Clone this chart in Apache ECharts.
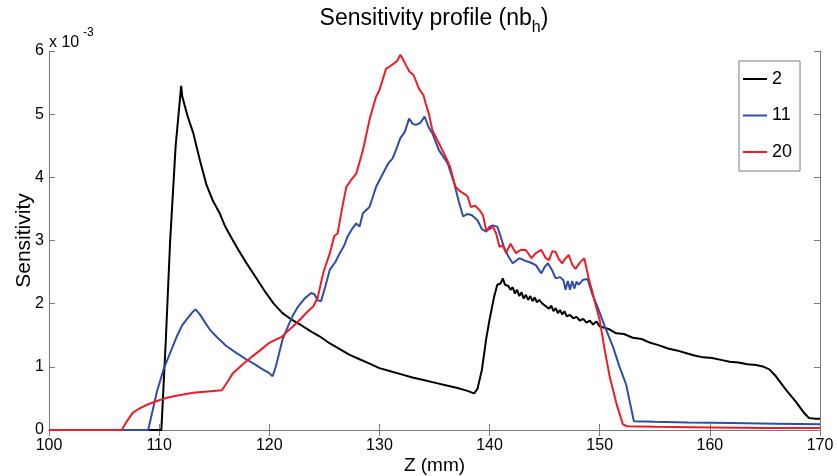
<!DOCTYPE html>
<html>
<head>
<meta charset="utf-8">
<script src="https://cdn.jsdelivr.net/npm/echarts@6/dist/echarts.min.js"></script>
<style>
html,body{margin:0;padding:0;background:#fff;}
#chart{width:837px;height:476px;}
</style>
</head>
<body>
<div id="chart"></div>
<script>
// Sensitivity values in units of 1e-3, Z in mm
const xTicks = [100, 110, 120, 130, 140, 150, 160, 170];
const yTicks = [0, 1, 2, 3, 4, 5, 6];
const seriesNames = ['2', '11', '20'];

const nb2 = [[100,0],[110.2,0],[110.6,1.4],[111.0,3.0],[111.5,4.5],[112.0,5.45],[112.1,5.28],[112.3,5.15],[112.6,4.96],[113.1,4.70],[113.7,4.27],[114.3,3.88],[114.9,3.62],[115.5,3.43],[116.0,3.22],[116.6,3.03],[117.2,2.85],[117.9,2.65],[118.8,2.41],[119.7,2.17],[120.4,2.00],[121.2,1.85],[122.0,1.75],[122.8,1.67],[123.7,1.57],[124.6,1.48],[125.5,1.37],[126.4,1.28],[127.3,1.19],[128.2,1.12],[129.1,1.05],[130.0,0.98],[131.0,0.93],[132.0,0.88],[133.0,0.83],[134.0,0.79],[135.0,0.75],[136.0,0.71],[137.0,0.67],[138.0,0.62],[138.6,0.58],[138.9,0.65],[139.3,0.95],[139.7,1.45],[140.0,1.75],[140.4,2.10],[140.7,2.30],[141.0,2.32],[141.2,2.40],[141.4,2.30],[141.7,2.28],[141.9,2.22],[142.1,2.26],[142.3,2.16],[142.5,2.22],[142.7,2.12],[142.9,2.18],[143.1,2.08],[143.3,2.14],[143.5,2.06],[143.7,2.12],[143.9,2.04],[144.1,2.10],[144.3,2.02],[144.5,2.06],[144.8,2.00],[145.1,1.96],[145.4,1.92],[145.6,1.97],[145.8,1.88],[146.0,1.93],[146.2,1.85],[146.4,1.90],[146.6,1.83],[146.8,1.88],[147.0,1.80],[147.3,1.82],[147.6,1.77],[147.9,1.79],[148.2,1.73],[148.5,1.76],[148.8,1.70],[149.1,1.73],[149.4,1.67],[149.7,1.72],[150.0,1.64],[150.8,1.60],[151.5,1.53],[152.2,1.52],[153.0,1.46],[153.8,1.44],[154.6,1.38],[155.4,1.34],[156.2,1.29],[157.0,1.26],[157.8,1.22],[158.6,1.18],[159.4,1.15],[160.2,1.14],[161.0,1.11],[161.8,1.08],[162.6,1.07],[163.4,1.04],[164.2,1.03],[164.9,1.00],[165.4,0.96],[166.0,0.85],[166.9,0.64],[167.8,0.45],[168.6,0.26],[169.0,0.19],[169.5,0.18],[170,0.18]];

const nb11 = [[100,0],[109.0,0],[109.4,0.30],[109.8,0.61],[110.4,0.96],[111.0,1.22],[111.6,1.48],[112.1,1.66],[112.5,1.75],[113.0,1.86],[113.3,1.91],[113.7,1.83],[114.1,1.72],[114.6,1.59],[115.3,1.46],[116.1,1.33],[117.0,1.22],[117.9,1.12],[118.7,1.04],[119.4,0.96],[120.0,0.90],[120.3,0.85],[120.6,1.01],[120.9,1.22],[121.2,1.43],[121.6,1.60],[122.1,1.80],[122.6,1.95],[123.2,2.08],[123.8,2.17],[124.1,2.15],[124.4,2.05],[124.7,2.04],[125.1,2.28],[125.5,2.54],[126.0,2.66],[126.4,2.80],[126.8,2.92],[127.1,3.06],[127.5,3.18],[127.9,3.27],[128.2,3.22],[128.5,3.43],[129.1,3.53],[129.7,3.85],[130.2,4.02],[130.8,4.22],[131.2,4.30],[131.5,4.43],[131.9,4.62],[132.3,4.72],[132.7,4.93],[133.0,4.85],[133.3,4.83],[133.7,4.86],[134.1,4.96],[134.5,4.78],[134.8,4.70],[135.4,4.43],[135.9,4.30],[136.2,4.22],[136.8,3.90],[137.2,3.62],[137.6,3.38],[138.0,3.42],[138.4,3.40],[138.9,3.32],[139.3,3.18],[139.7,3.14],[140.0,3.22],[140.3,3.24],[140.7,3.22],[140.9,3.12],[141.3,2.90],[141.7,2.75],[142.1,2.64],[142.7,2.72],[143.2,2.68],[143.6,2.66],[144.2,2.61],[144.7,2.48],[145.0,2.58],[145.3,2.64],[145.7,2.52],[146.0,2.40],[146.4,2.42],[146.7,2.37],[146.9,2.22],[147.1,2.36],[147.3,2.22],[147.5,2.36],[147.7,2.24],[147.9,2.35],[148.1,2.30],[148.5,2.38],[148.9,2.39],[149.3,2.16],[149.8,1.95],[150.5,1.62],[151.2,1.32],[151.8,1.00],[152.4,0.72],[153.1,0.14],[155,0.13],[158,0.12],[162,0.11],[166,0.10],[170,0.09]];

const nb20 = [[100,0],[106.6,0],[107.0,0.12],[107.6,0.27],[108.2,0.34],[108.9,0.40],[109.8,0.46],[110.7,0.51],[111.8,0.55],[113.1,0.59],[114.4,0.61],[115.7,0.63],[116.2,0.76],[116.7,0.90],[117.6,1.04],[118.5,1.17],[119.3,1.28],[120.0,1.38],[120.6,1.43],[121.2,1.48],[121.5,1.54],[122.1,1.63],[122.8,1.75],[123.4,1.86],[124.0,1.96],[124.4,2.10],[124.9,2.49],[125.5,2.80],[125.9,3.07],[126.2,3.11],[126.6,3.50],[127.0,3.85],[127.4,3.95],[127.9,4.06],[128.5,4.43],[129.1,4.91],[129.4,5.10],[129.7,5.28],[130.0,5.38],[130.3,5.55],[130.6,5.72],[130.9,5.75],[131.3,5.80],[131.6,5.84],[131.9,5.94],[132.1,5.88],[132.4,5.78],[132.7,5.68],[133.1,5.62],[133.6,5.40],[134.0,5.30],[134.2,5.17],[134.5,5.00],[134.8,4.75],[135.4,4.54],[136.0,4.33],[136.4,4.17],[136.9,3.85],[137.3,3.78],[137.6,3.75],[138.0,3.70],[138.3,3.53],[138.7,3.55],[139.1,3.48],[139.4,3.40],[139.7,3.16],[140.0,3.18],[140.3,3.22],[140.6,3.11],[140.9,2.90],[141.2,2.92],[141.5,2.80],[141.9,2.95],[142.4,2.80],[142.8,2.85],[143.3,2.85],[143.8,2.72],[144.2,2.80],[144.7,2.85],[145.1,2.72],[145.4,2.69],[145.7,2.83],[146.0,2.82],[146.3,2.70],[146.6,2.64],[146.9,2.72],[147.2,2.77],[147.5,2.62],[147.8,2.55],[148.2,2.65],[148.6,2.72],[149.0,2.40],[149.3,2.21],[149.6,2.00],[150.0,1.74],[150.4,1.32],[150.9,0.85],[151.5,0.43],[152.1,0.09],[152.5,0.06],[155,0.05],[160,0.04],[165,0.03],[170,0.03]];

const colors = ['#000000', '#2F4DA5', '#EE1C25'];
const FONT = '"Liberation Sans", Arial, Helvetica, sans-serif';
const axisGrey = '#7a7a7a';

const chart = echarts.init(document.getElementById('chart'), null, {renderer: 'canvas'});

const baseX = {
  type: 'value', min: xTicks[0], max: xTicks[xTicks.length - 1], interval: 10,
  axisLine: {show: true, lineStyle: {color: axisGrey, width: 1}},
  axisTick: {show: true, inside: true, length: 6, lineStyle: {color: axisGrey}},
  splitLine: {show: false}
};
const baseY = {
  type: 'value', min: yTicks[0], max: yTicks[yTicks.length - 1], interval: 1,
  axisLine: {show: true, lineStyle: {color: axisGrey, width: 1}},
  axisTick: {show: true, inside: true, length: 6, lineStyle: {color: axisGrey}},
  splitLine: {show: false}
};

chart.setOption({
  animation: false,
  backgroundColor: '#ffffff',
  textStyle: {fontFamily: FONT},
  grid: {left: 49, right: 17, top: 51, bottom: 46, containLabel: false, outerBoundsMode: 'none'},
  graphic: [
    {
      type: 'text', x: 434, y: 2,
      style: {
        text: '{a|Sensitivity profile (nb}{b|h}{a|)}',
        align: 'center', verticalAlign: 'top',
        rich: {
          a: {fontSize: 23, lineHeight: 34, fontFamily: FONT, fill: '#000'},
          b: {fontSize: 16, lineHeight: 16, verticalAlign: 'bottom', fontFamily: FONT, fill: '#000'}
        }
      }
    },
    {type: 'text', x: 49, y: 35, style: {text: 'x 10', font: '16px ' + FONT, fill: '#000', verticalAlign: 'top'}},
    {type: 'text', x: 83, y: 27, style: {text: '-3', font: '12px ' + FONT, fill: '#000', verticalAlign: 'top'}}
  ],
  legend: {
    orient: 'vertical', left: 739, top: 61,
    padding: [9, 8, 10, 4],
    icon: 'rect',
    itemWidth: 24, itemHeight: 2, itemGap: 18.5,
    borderColor: axisGrey, borderWidth: 1, backgroundColor: '#fff',
    textStyle: {fontSize: 18, color: '#000', fontFamily: FONT},
    data: seriesNames
  },
  xAxis: [
    Object.assign({}, baseX, {
      position: 'bottom',
      name: 'Z (mm)', nameLocation: 'middle', nameGap: 26, nameMoveOverlap: false,
      nameTextStyle: {fontSize: 19, color: '#000', fontFamily: FONT},
      axisLabel: {show: true, color: '#000', fontSize: 16, margin: 8, fontFamily: FONT}
    }),
    Object.assign({}, baseX, {position: 'top', axisLabel: {show: false}})
  ],
  yAxis: [
    Object.assign({}, baseY, {
      position: 'left',
      name: 'Sensitivity', nameLocation: 'middle', nameGap: 14, nameMoveOverlap: false,
      nameTextStyle: {fontSize: 21, color: '#000', fontFamily: FONT},
      axisLabel: {show: true, color: '#000', fontSize: 16, margin: 5, fontFamily: FONT}
    }),
    Object.assign({}, baseY, {position: 'right', axisLabel: {show: false}})
  ],
  series: [nb2, nb11, nb20].map((d, i) => ({
    name: seriesNames[i], type: 'line', data: d,
    xAxisIndex: 0, yAxisIndex: 0,
    symbol: 'none', showSymbol: false,
    lineStyle: {color: colors[i], width: 2},
    itemStyle: {color: colors[i]},
    emphasis: {disabled: true}
  }))
});
</script>
</body>
</html>
